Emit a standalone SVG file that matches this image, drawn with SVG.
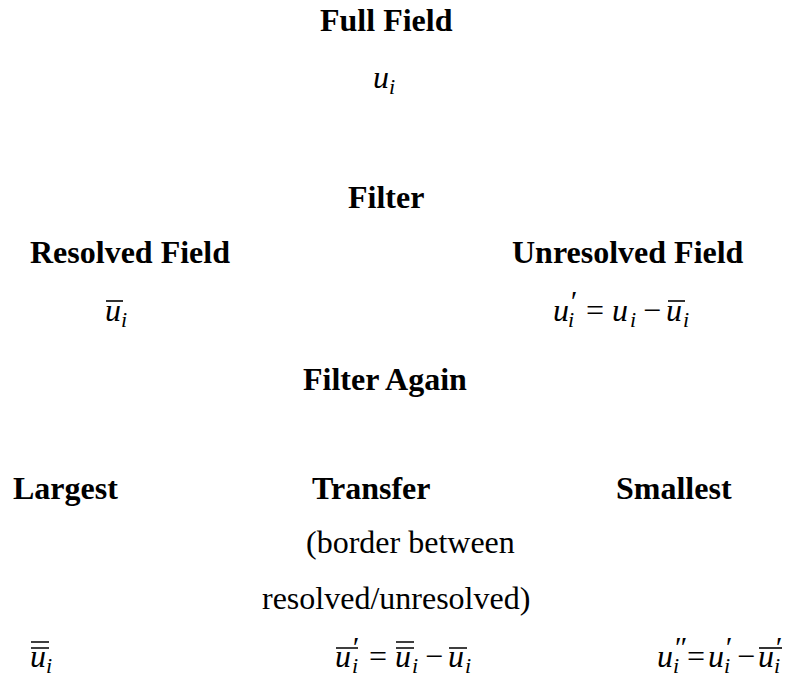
<svg xmlns="http://www.w3.org/2000/svg" width="798" height="679" viewBox="0 0 798 679">
<rect width="798" height="679" fill="#fff"/>
<g id="full-field">
<text x="320" y="31" font-family="Liberation Serif" font-weight="bold" font-size="32">Full Field</text>
<text x="373" y="88" font-family="Liberation Serif" font-style="italic" font-size="32">u<tspan font-size="22" dy="6">i</tspan></text>
</g>
<g id="filter">
<text x="348" y="208" font-family="Liberation Serif" font-weight="bold" font-size="32">Filter</text>
</g>
<g id="resolved">
<text x="30" y="263" font-family="Liberation Serif" font-weight="bold" font-size="32">Resolved Field</text>
<text x="105" y="321" font-family="Liberation Serif" font-style="italic" font-size="32">u<tspan font-size="22" dy="6">i</tspan></text>
<path d="M106 301H123" stroke="#000" stroke-width="1.6" fill="none"/>
</g>
<g id="unresolved">
<text x="512" y="263" font-family="Liberation Serif" font-weight="bold" font-size="32">Unresolved Field</text>
<text x="553" y="321" font-family="Liberation Serif" font-style="italic" font-size="32">u<tspan font-size="22" x="568" dy="6">i</tspan><tspan font-size="30" x="569" dy="-16">′</tspan><tspan font-style="normal" x="586" dy="10">=</tspan><tspan x="612">u</tspan><tspan font-size="22" x="630" dy="6">i</tspan><tspan font-style="normal" x="643" dy="-6">−</tspan><tspan x="666">u</tspan><tspan font-size="22" x="683" dy="6">i</tspan></text>
<path d="M668 301H685" stroke="#000" stroke-width="1.6" fill="none"/>
</g>
<g id="filter-again">
<text x="303" y="390" font-family="Liberation Serif" font-weight="bold" font-size="32">Filter Again</text>
</g>
<g id="largest">
<text x="13" y="499" font-family="Liberation Serif" font-weight="bold" font-size="32">Largest</text>
<text x="30" y="667" font-family="Liberation Serif" font-style="italic" font-size="32">u<tspan font-size="22" dy="6">i</tspan></text>
<path d="M31 642H49M31 648H49" stroke="#000" stroke-width="1.6" fill="none"/>
</g>
<g id="transfer">
<text x="312" y="499" font-family="Liberation Serif" font-weight="bold" font-size="32">Transfer</text>
<text x="306" y="553" font-family="Liberation Serif" font-size="32">(border between</text>
<text x="262" y="609" font-family="Liberation Serif" font-size="32">resolved/unresolved)</text>
<text x="335" y="667" font-family="Liberation Serif" font-style="italic" font-size="32">u<tspan font-size="22" x="352" dy="6">i</tspan><tspan font-size="30" x="351" dy="-16">′</tspan><tspan font-style="normal" x="369" dy="10">=</tspan><tspan x="395">u</tspan><tspan font-size="22" x="412" dy="6">i</tspan><tspan font-style="normal" x="425" dy="-6">−</tspan><tspan x="448">u</tspan><tspan font-size="22" x="465" dy="6">i</tspan></text>
<path d="M336 648H358M396 642H414M396 648H414M449 648H467" stroke="#000" stroke-width="1.6" fill="none"/>
</g>
<g id="smallest">
<text x="616" y="499" font-family="Liberation Serif" font-weight="bold" font-size="32">Smallest</text>
<text x="657" y="667" font-family="Liberation Serif" font-style="italic" font-size="32">u<tspan font-size="22" x="673" dy="6">i</tspan><tspan font-size="30" x="673" dy="-16">″</tspan><tspan font-style="normal" x="687" dy="10">=</tspan><tspan x="708">u</tspan><tspan font-size="22" x="724" dy="6">i</tspan><tspan font-size="30" x="724" dy="-16">′</tspan><tspan font-style="normal" x="737" dy="10">−</tspan><tspan x="758">u</tspan><tspan font-size="22" x="774" dy="6">i</tspan><tspan font-size="30" x="774" dy="-16">′</tspan></text>
<path d="M759 648H782" stroke="#000" stroke-width="1.6" fill="none"/>
</g>
<g id="connectors"></g>
</svg>
